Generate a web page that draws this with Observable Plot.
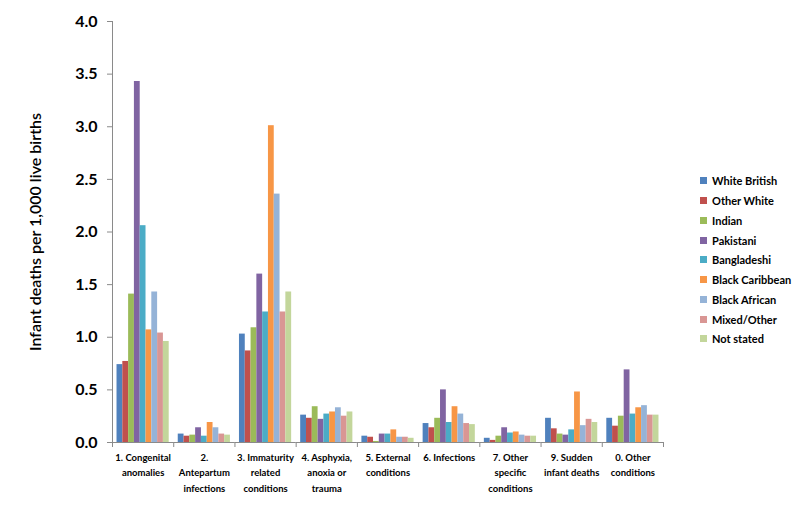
<!DOCTYPE html>
<html><head><meta charset="utf-8">
<script src="https://cdn.jsdelivr.net/npm/d3@7"></script>
<script src="https://cdn.jsdelivr.net/npm/@observablehq/plot@0.6"></script>
<style>
body{margin:0;background:#fff;font-family:Lato,"Open Sans",sans-serif}
#wrap{position:relative;width:800px;height:520px;overflow:hidden}
#legend{position:absolute;left:700px;top:171px;font:bold 11px Lato,sans-serif;color:#000}
.item{height:19.75px;display:flex;align-items:center;white-space:nowrap}
.sw{width:7px;height:7px;margin-right:5px;flex:none}
</style></head><body>
<div id="wrap"><div id="chart"></div><div id="legend"></div></div>
<script>
const categories = ["1. Congenital anomalies","2. Antepartum infections","3. Immaturity related conditions","4. Asphyxia, anoxia or trauma","5. External conditions","6. Infections","7. Other specific conditions","9. Sudden infant deaths","0. Other conditions"];
const categoryLabels = ["1. Congenital\nanomalies","2.\nAntepartum\ninfections","3. Immaturity\nrelated\nconditions","4. Asphyxia,\nanoxia or\ntrauma","5. External\nconditions","6. Infections","7. Other\nspecific\nconditions","9. Sudden\ninfant deaths","0. Other\nconditions"];
const groups = ["White British","Other White","Indian","Pakistani","Bangladeshi","Black Caribbean","Black African","Mixed/Other","Not stated"];
const colors = ["#4F81BD","#C0504D","#9BBB59","#8064A2","#4BACC6","#F79646","#95B3D7","#D99694","#C3D69B"];

const whiteBritish   = [0.74, 0.08, 1.03, 0.26, 0.06, 0.18, 0.04, 0.23, 0.23];
const otherWhite     = [0.77, 0.06, 0.87, 0.23, 0.05, 0.14, 0.02, 0.13, 0.155];
const indian         = [1.41, 0.07, 1.09, 0.34, 0.01, 0.23, 0.06, 0.08, 0.25];
const pakistani      = [3.43, 0.14, 1.60, 0.22, 0.08, 0.50, 0.14, 0.07, 0.69];
const bangladeshi    = [2.06, 0.06, 1.24, 0.27, 0.08, 0.19, 0.09, 0.12, 0.27];
const blackCaribbean = [1.07, 0.19, 3.01, 0.29, 0.12, 0.34, 0.10, 0.48, 0.33];
const blackAfrican   = [1.43, 0.14, 2.36, 0.33, 0.05, 0.27, 0.07, 0.16, 0.35];
const mixedOther     = [1.04, 0.08, 1.24, 0.25, 0.05, 0.18, 0.06, 0.22, 0.26];
const notStated      = [0.96, 0.07, 1.43, 0.29, 0.04, 0.17, 0.06, 0.19, 0.26];
const yTicks = [0, 0.5, 1.0, 1.5, 2.0, 2.5, 3.0, 3.5, 4.0];
const yLabel = "Infant deaths per 1,000 live births";

const series = [whiteBritish, otherWhite, indian, pakistani, bangladeshi, blackCaribbean, blackAfrican, mixedOther, notStated];
const data = [];
categories.forEach((c, i) => groups.forEach((g, j) => data.push({category: c, group: g, value: series[j][i]})));
const labelOf = new Map(categories.map((c, i) => [c, categoryLabels[i]]));

const W = 800, H = 520, mL = 112, mR = 137, mT = 21, mB = 78;
const pOuter = 0.78;
const facetW = (W - mL - mR) / categories.length;
const step = facetW / (groups.length + 2 * pOuter);
const edge = pOuter * step + step / 2;
const grey = "#8a8a8a";

const chart = Plot.plot({
  width: W, height: H, marginLeft: mL, marginRight: mR, marginTop: mT, marginBottom: mB,
  style: {fontFamily: "Lato, sans-serif", background: "white", color: "#000"},
  fx: {domain: categories, padding: 0, round: false, label: null, axis: null},
  x: {domain: groups, paddingInner: 0, paddingOuter: pOuter, round: false, axis: null},
  y: {domain: [0, 4], axis: null},
  color: {domain: groups, range: colors},
  marks: [
    Plot.barY(data, {fx: "category", x: "group", y: "value", fill: "group"}),
    Plot.ruleY(categories, {fx: d => d, y: () => 0, stroke: grey}),
    Plot.ruleX(categories, {fx: d => d, x: () => groups[0], dx: -edge, y1: () => 0, y2: () => 0, insetBottom: -5, stroke: grey}),
    Plot.ruleX([categories[categories.length - 1]], {fx: d => d, x: () => groups[groups.length - 1], dx: edge, y1: () => 0, y2: () => 0, insetBottom: -5, stroke: grey}),
    Plot.ruleX([categories[0]], {fx: d => d, x: () => groups[0], dx: -edge, y1: () => 0, y2: () => 4, stroke: grey}),
    Plot.axisY({ticks: yTicks, tickFormat: d => d.toFixed(1), tickSize: 5, tickPadding: 10, fontSize: 16, fontWeight: "bold", stroke: grey, fill: "#000", label: null}),
    Plot.axisFx({anchor: "bottom", tickSize: 0, tickPadding: 8, tickFormat: c => labelOf.get(c), fontSize: 9.5, fontWeight: "bold", lineHeight: 1.6, label: null, fill: "#000"}),
    Plot.text([categories[0]], {fx: d => d, text: () => yLabel, frameAnchor: "left", textAnchor: "middle", rotate: -90, dx: -77, fontSize: 16, fontWeight: 600, fill: "#000"})
  ]
});
document.getElementById("chart").appendChild(chart);

const legend = document.getElementById("legend");
groups.forEach((g, i) => {
  const item = document.createElement("div");
  item.className = "item";
  const sw = document.createElement("span");
  sw.className = "sw";
  sw.style.background = colors[i];
  const t = document.createElement("span");
  t.textContent = g;
  item.appendChild(sw); item.appendChild(t);
  legend.appendChild(item);
});
</script>
</body></html>
